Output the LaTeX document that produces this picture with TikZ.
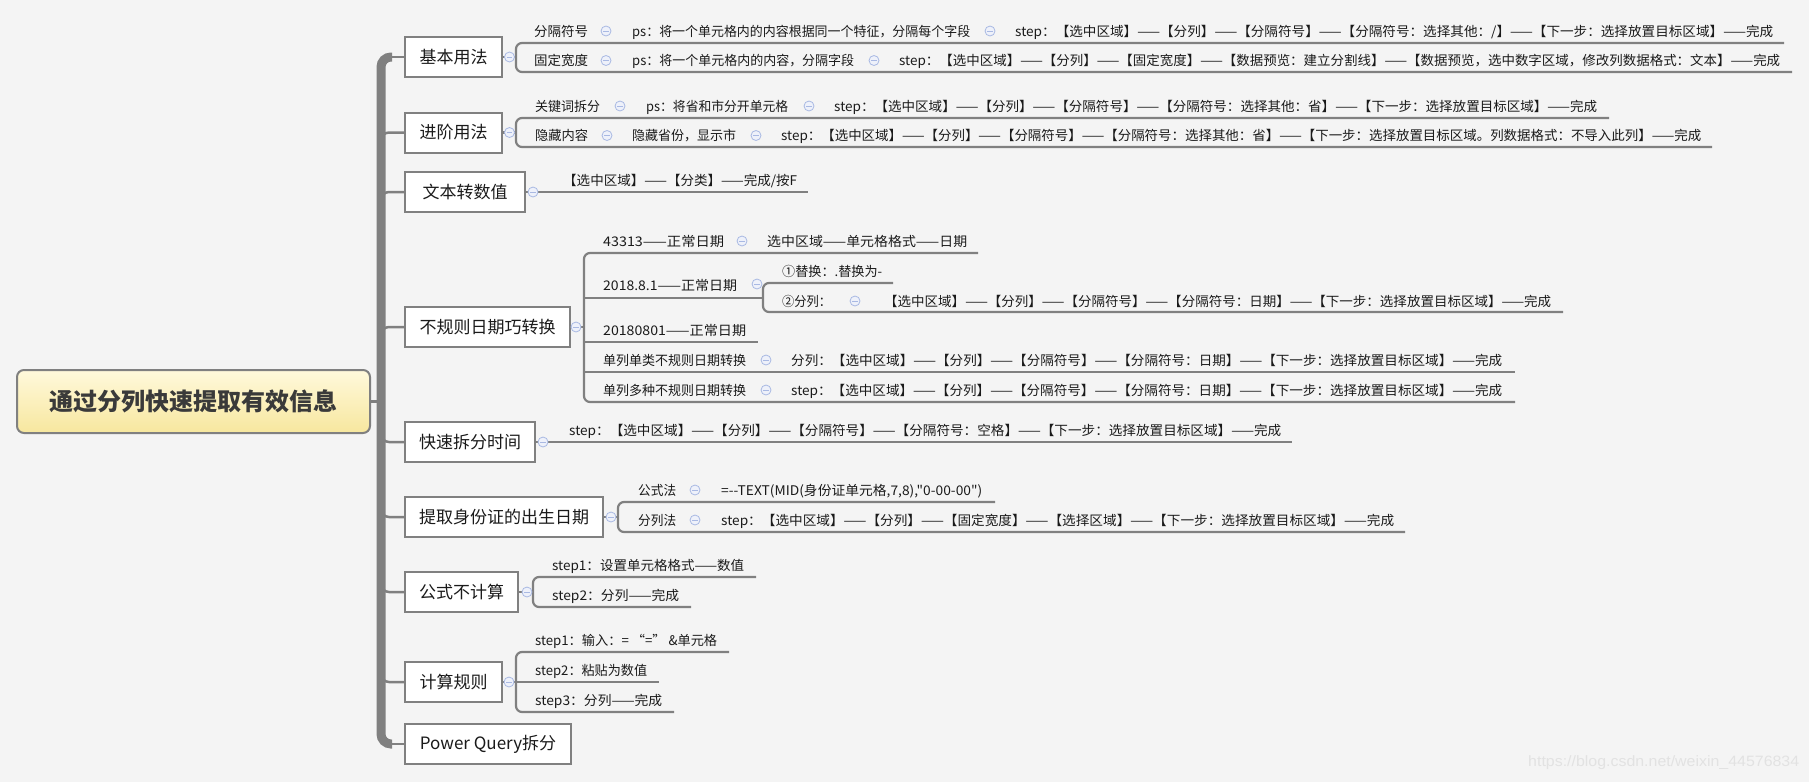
\documentclass[tikz,border=0pt]{standalone}
\usepackage{fontspec}
\usepackage{graphicx}
\newfontfamily\cjk{Noto Sans CJK SC}
\newfontfamily\wmfont{Liberation Sans}
\definecolor{bgc}{HTML}{F4F4F4}
\definecolor{ln}{HTML}{808080}
\definecolor{txt}{HTML}{1A1A1A}
\definecolor{cb}{HTML}{A9B9E3}
\definecolor{cf}{HTML}{EEF1FA}
\definecolor{rtop}{HTML}{FFF9DC}
\definecolor{rbot}{HTML}{F7E79E}
\definecolor{wmc}{HTML}{E2E2E2}
\newcommand\fw[2]{\resizebox{#1pt}{\height}{#2}}
\pgfdeclarelayer{bg}
\pgfsetlayers{bg,main}
\tikzset{
  t/.style={anchor=west, inner sep=0pt, text height=11.7pt, text depth=1.6pt,
    font=\cjk\fontsize{13.3}{16}\selectfont, text=txt},
  cc/.style={circle, draw=cb, fill=cf, line width=0.8pt, minimum size=10pt, inner sep=0pt,
    path picture={\draw[cb, line width=1pt] ([xshift=-2.6pt]path picture bounding box.center) -- ([xshift=2.6pt]path picture bounding box.center);}},
  lb/.style={draw=ln, fill=white, line width=2pt, minimum height=40pt, inner sep=0pt,
    font=\cjk\fontsize{17}{20}\selectfont, text=txt},
  conn/.style={draw=ln, line width=2.2pt},
  branch/.style={draw=ln, line width=2.5pt},
  spine/.style={draw=ln, line width=9pt},
  rootbox/.style={draw=ln, line width=2pt, rounded corners=7pt, top color=rtop, bottom color=rbot,
    minimum width=353pt, minimum height=63pt, inner sep=0pt,
    font=\cjk\bfseries\fontsize{24}{28}\selectfont, text={rgb,255:red,58;green,58;blue,58}},
}
\begin{document}
\begin{tikzpicture}[x=1pt,y=-1pt]
\begin{pgfonlayer}{bg}
\fill[bgc] (0,0) rectangle (1809,782);
\end{pgfonlayer}
\useasboundingbox (0,0) rectangle (1809,782);

% root and level-1 boxes
\node[rootbox] (root) at (193.5,401.5) {通过分列快速提取有效信息};
\node[lb, minimum width=97pt]  (b1) at (453.5,57)    {基本用法};
\node[lb, minimum width=97pt]  (b2) at (453.5,132.5) {进阶用法};
\node[lb, minimum width=120pt] (b3) at (465,192)     {文本转数值};
\node[lb, minimum width=165pt] (b4) at (487.5,327)   {不规则日期巧转换};
\node[lb, minimum width=130pt] (b5) at (470,442)     {快速拆分时间};
\node[lb, minimum width=198pt] (b6) at (504,517)     {提取身份证的出生日期};
\node[lb, minimum width=113pt] (b7) at (461.5,592)   {公式不计算};
\node[lb, minimum width=97pt]  (b8) at (453.5,682)   {计算规则};
\node[lb, minimum width=166pt] (b9) at (488,744)     {Power Query拆分};

% spine coordinates
\coordinate (spT) at (381,57);
\coordinate (spB) at (381,744);
\coordinate (spa) at (392,57);
\coordinate (spb) at (392,744);
\coordinate (spR) at (381,401.5);

\begin{pgfonlayer}{bg}
\draw[spine, rounded corners=10pt] (spa) -- (spT) -- (spB) -- (spb);
\draw[branch] (spa) -- (b1.west);
\draw[branch] (spb) -- (b9.west);
\draw[branch] (root.east) -- (spR);
\draw[branch, rounded corners=8pt] (b2.west) -- (b2.west -| spT) -- ++(0,18);
\draw[branch, rounded corners=8pt] (b3.west) -- (b3.west -| spT) -- ++(0,18);
\draw[branch, rounded corners=8pt] (b4.west) -- (b4.west -| spT) -- ++(0,18);
\draw[branch, rounded corners=8pt] (b5.west) -- (b5.west -| spT) -- ++(0,-18);
\draw[branch, rounded corners=8pt] (b6.west) -- (b6.west -| spT) -- ++(0,-18);
\draw[branch, rounded corners=8pt] (b7.west) -- (b7.west -| spT) -- ++(0,-18);
\draw[branch, rounded corners=8pt] (b8.west) -- (b8.west -| spT) -- ++(0,-18);
\end{pgfonlayer}

% ---------- 基本用法 ----------
\coordinate (k1) at (516,57);
\coordinate (k1t) at (516,43);
\coordinate (k1b) at (516,72);
\coordinate (e11) at (1784,43);
\coordinate (e12) at (1792,72);
\begin{pgfonlayer}{bg}
\draw[conn] (b1.east) -- (k1);
\draw[conn, rounded corners=6pt] (e11) -- (k1t) -- (k1b) -- (e12);
\end{pgfonlayer}
\node[cc] (c1) at (509.5,57) {};
\node[t] (n11a) at (534,31) {\fw{54}{分隔符号}};
\node[cc] (c11a) at (606,31) {};
\node[t] (n11b) at (632,31) {\fw{338}{ps：将一个单元格内的内容根据同一个特征，分隔每个字段}};
\node[cc] (c11b) at (990,31) {};
\node[t] (n11c) at (1015,31) {\fw{758}{step：【选中区域】——【分列】——【分隔符号】——【分隔符号：选择其他：/】——【下一步：选择放置目标区域】——完成}};
\node[t] (n12a) at (534,60.5) {\fw{54}{固定宽度}};
\node[cc] (c12a) at (606,60.5) {};
\node[t] (n12b) at (632,60.5) {\fw{222}{ps：将一个单元格内的内容，分隔字段}};
\node[cc] (c12b) at (874,60.5) {};
\node[t] (n12c) at (899,60.5) {\fw{881}{step：【选中区域】——【分列】——【固定宽度】——【数据预览：建立分割线】——【数据预览，选中数字区域，修改列数据格式：文本】——完成}};

% ---------- 进阶用法 ----------
\coordinate (k2) at (516,132.5);
\coordinate (k2t) at (516,118);
\coordinate (k2b) at (516,147);
\coordinate (e21) at (1609,118);
\coordinate (e22) at (1712,147);
\begin{pgfonlayer}{bg}
\draw[conn] (b2.east) -- (k2);
\draw[conn, rounded corners=6pt] (e21) -- (k2t) -- (k2b) -- (e22);
\end{pgfonlayer}
\node[cc] (c2) at (509.5,132.5) {};
\node[t] (n21a) at (535,106) {\fw{65}{关键词拆分}};
\node[cc] (c21a) at (620,106) {};
\node[t] (n21b) at (646,106) {\fw{142}{ps：将省和市分开单元格}};
\node[cc] (c21b) at (809,106) {};
\node[t] (n21c) at (834,106) {\fw{763}{step：【选中区域】——【分列】——【分隔符号】——【分隔符号：选择其他：省】——【下一步：选择放置目标区域】——完成}};
\node[t] (n22a) at (535,135.5) {\fw{53}{隐藏内容}};
\node[cc] (c22a) at (607,135.5) {};
\node[t] (n22b) at (632,135.5) {\fw{104}{隐藏省份，显示市}};
\node[cc] (c22b) at (756,135.5) {};
\node[t] (n22c) at (781,135.5) {\fw{920}{step：【选中区域】——【分列】——【分隔符号】——【分隔符号：选择其他：省】——【下一步：选择放置目标区域。列数据格式：不导入此列】——完成}};

% ---------- 文本转数值 ----------
\coordinate (e31) at (808,192);
\begin{pgfonlayer}{bg}
\draw[conn] (b3.east) -- (e31);
\end{pgfonlayer}
\node[cc] (c3) at (533,192) {};
\node[t] (n31) at (563,180.5) {\fw{234}{【选中区域】——【分类】——完成/按F}};

% ---------- 不规则日期巧转换 ----------
\coordinate (k4) at (584,327);
\coordinate (k4t) at (584,253);
\coordinate (k4b) at (584,402);
\coordinate (k42) at (584,298);
\coordinate (k43) at (584,342);
\coordinate (k44) at (584,372);
\coordinate (e41) at (978,253);
\coordinate (s4) at (763,298);
\coordinate (s4t) at (763,283);
\coordinate (s4b) at (763,312);
\coordinate (e4s1) at (893,283);
\coordinate (e4s2) at (1563,312);
\coordinate (e43) at (758,342);
\coordinate (e44) at (1515,372);
\coordinate (e45) at (1515,402);
\begin{pgfonlayer}{bg}
\draw[conn] (b4.east) -- (k4);
\draw[conn, rounded corners=6pt] (e41) -- (k4t) -- (k4b) -- (e45);
\draw[conn] (k42) -- (s4);
\draw[conn] (k43) -- (e43);
\draw[conn] (k44) -- (e44);
\draw[conn, rounded corners=6pt] (e4s1) -- (s4t) -- (s4b) -- (e4s2);
\end{pgfonlayer}
\node[cc] (c4) at (576,327) {};
\node[t] (n41a) at (603,241) {\fw{121}{43313——正常日期}};
\node[cc] (c41) at (742,241) {};
\node[t] (n41b) at (767,241) {\fw{200}{选中区域——单元格格式——日期}};
\node[t] (n42) at (603,285.5) {\fw{134}{2018.8.1——正常日期}};
\node[cc] (c42) at (757,284) {};
\node[t] (n42a) at (782,271) {\fw{100}{①替换：.替换为-}};
\node[t] (n42b) at (782,301) {\fw{49}{②分列：}};
\node[cc] (c42b) at (855,301) {};
\node[t] (n42c) at (884,301) {\fw{667}{【选中区域】——【分列】——【分隔符号】——【分隔符号：日期】——【下一步：选择放置目标区域】——完成}};
\node[t] (n43) at (603,330) {\fw{143}{20180801——正常日期}};
\node[t] (n44a) at (603,360) {\fw{143}{单列单类不规则日期转换}};
\node[cc] (c44) at (766,360) {};
\node[t] (n44b) at (791,360) {\fw{711}{分列：【选中区域】——【分列】——【分隔符号】——【分隔符号：日期】——【下一步：选择放置目标区域】——完成}};
\node[t] (n45a) at (603,390) {\fw{143}{单列多种不规则日期转换}};
\node[cc] (c45) at (766,390) {};
\node[t] (n45b) at (791,390) {\fw{711}{step：【选中区域】——【分列】——【分隔符号】——【分隔符号：日期】——【下一步：选择放置目标区域】——完成}};

% ---------- 快速拆分时间 ----------
\coordinate (e51) at (1292,442);
\begin{pgfonlayer}{bg}
\draw[conn] (b5.east) -- (e51);
\end{pgfonlayer}
\node[cc] (c5) at (543,442) {};
\node[t] (n51) at (569,430) {\fw{712}{step：【选中区域】——【分列】——【分隔符号】——【分隔符号：空格】——【下一步：选择放置目标区域】——完成}};

% ---------- 提取身份证的出生日期 ----------
\coordinate (k6) at (618,517);
\coordinate (k6t) at (618,502);
\coordinate (k6b) at (618,532);
\coordinate (e61) at (995,502);
\coordinate (e62) at (1405,532);
\begin{pgfonlayer}{bg}
\draw[conn] (b6.east) -- (k6);
\draw[conn, rounded corners=6pt] (e61) -- (k6t) -- (k6b) -- (e62);
\end{pgfonlayer}
\node[cc] (c6) at (611,517) {};
\node[t] (n61a) at (638,490) {\fw{38}{公式法}};
\node[cc] (c61) at (695,490) {};
\node[t] (n61b) at (721,490) {\fw{261}{=-{}-TEXT(MID(身份证单元格,7,8),"0-00-00")}};
\node[t] (n62a) at (638,520) {\fw{38}{分列法}};
\node[cc] (c62) at (695,520) {};
\node[t] (n62b) at (721,520) {\fw{673}{step：【选中区域】——【分列】——【固定宽度】——【选择区域】——【下一步：选择放置目标区域】——完成}};

% ---------- 公式不计算 ----------
\coordinate (k7) at (533,592);
\coordinate (k7t) at (533,577);
\coordinate (k7b) at (533,607);
\coordinate (e71) at (756,577);
\coordinate (e72) at (691,607);
\begin{pgfonlayer}{bg}
\draw[conn] (b7.east) -- (k7);
\draw[conn, rounded corners=6pt] (e71) -- (k7t) -- (k7b) -- (e72);
\end{pgfonlayer}
\node[cc] (c7) at (527,592) {};
\node[t] (n71) at (552,565) {\fw{192}{step1：设置单元格格式——数值}};
\node[t] (n72) at (552,595) {\fw{127}{step2：分列——完成}};

% ---------- 计算规则 ----------
\coordinate (k8) at (516,682);
\coordinate (k8t) at (516,652);
\coordinate (k8b) at (516,712);
\coordinate (e81) at (729,652);
\coordinate (e82) at (659,682);
\coordinate (e83) at (674,712);
\begin{pgfonlayer}{bg}
\draw[conn] (b8.east) -- (e82);
\draw[conn, rounded corners=6pt] (e81) -- (k8t) -- (k8b) -- (e83);
\end{pgfonlayer}
\node[cc] (c8) at (509,682) {};
\node[t] (n81) at (535,640) {\fw{182}{step1：输入：= “=” \&单元格}};
\node[t] (n82) at (535,670) {\fw{112}{step2：粘贴为数值}};
\node[t] (n83) at (535,700) {\fw{127}{step3：分列——完成}};

% watermark
\node[anchor=west, inner sep=0pt, font=\wmfont\fontsize{15}{18}\selectfont, text=wmc] (wm) at (1528,763) {\resizebox{271pt}{\height}{https://blog.csdn.net/weixin\_44576834}};
\end{tikzpicture}
\end{document}
